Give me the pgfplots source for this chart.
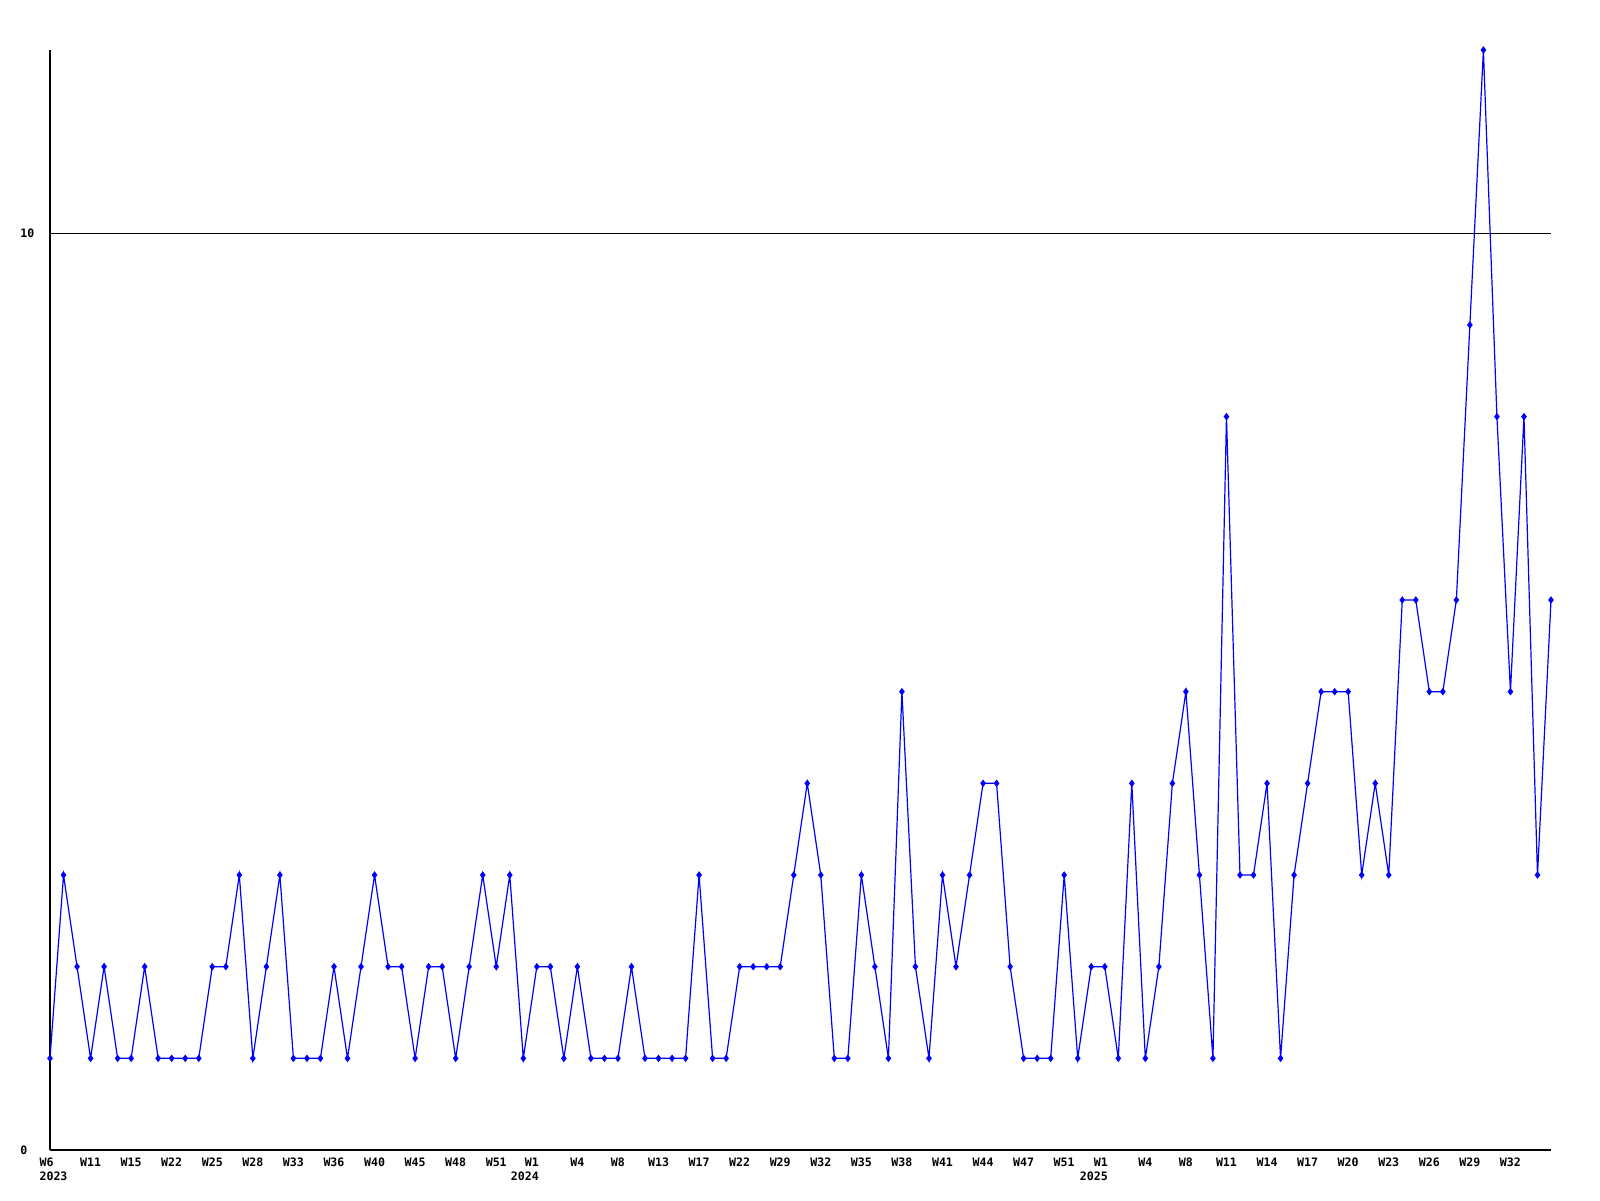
\documentclass[border=0pt]{standalone}
\usepackage{fontspec}
\setmonofont{DejaVu Sans Mono}
\usepackage{pgfplots}
\pgfplotsset{compat=1.18}
\usepackage{pgfplotstable}
\newcommand\lf{\fontsize{5.8}{7}\selectfont\ttfamily\bfseries}
\newcommand\tl[1]{\begin{tabular}{@{}c@{}}#1\end{tabular}}
\pgfplotstableread{
x y
0 1
1 3
2 2
3 1
4 2
5 1
6 1
7 2
8 1
9 1
10 1
11 1
12 2
13 2
14 3
15 1
16 2
17 3
18 1
19 1
20 1
21 2
22 1
23 2
24 3
25 2
26 2
27 1
28 2
29 2
30 1
31 2
32 3
33 2
34 3
35 1
36 2
37 2
38 1
39 2
40 1
41 1
42 1
43 2
44 1
45 1
46 1
47 1
48 3
49 1
50 1
51 2
52 2
53 2
54 2
55 3
56 4
57 3
58 1
59 1
60 3
61 2
62 1
63 5
64 2
65 1
66 3
67 2
68 3
69 4
70 4
71 2
72 1
73 1
74 1
75 3
76 1
77 2
78 2
79 1
80 4
81 1
82 2
83 4
84 5
85 3
86 1
87 8
88 3
89 3
90 4
91 1
92 3
93 4
94 5
95 5
96 5
97 3
98 4
99 3
100 6
101 6
102 5
103 5
104 6
105 9
106 12
107 8
108 5
109 8
110 3
111 6
}\weekly
\begin{document}
\begin{tikzpicture}
\useasboundingbox (0,0) rectangle (800pt,600pt);
\begin{axis}[
  at={(25pt,25pt)}, anchor=south west,
  width=750.5pt, height=550pt, scale only axis,
  xmin=0, xmax=111, ymin=0, ymax=12,
  clip=false,
  axis x line*=bottom, axis y line*=left,
  axis line style={-, black, line width=0.6pt},
  major tick length=0pt,
  tick style={draw=none},
  ytick={0,10}, yticklabels={0,10},
  ymajorgrids, grid style={black, line width=0.6pt},
  xtick={0,3,...,108},
  xticklabels={
    {\hspace*{3.5pt}\begin{tabular}{@{}l@{}}W6\\2023\end{tabular}},
    \tl{W11},\tl{W15},\tl{W22},\tl{W25},\tl{W28},\tl{W33},\tl{W36},\tl{W40},\tl{W45},\tl{W48},\tl{W51},
    {\begin{tabular}{@{}r@{}}W1\\2024\end{tabular}\hspace*{12pt}},
    \tl{W4},\tl{W8},\tl{W13},\tl{W17},\tl{W22},\tl{W29},\tl{W32},\tl{W35},\tl{W38},\tl{W41},\tl{W44},\tl{W47},\tl{W51},
    {\begin{tabular}{@{}r@{}}W1\\2025\end{tabular}\hspace*{11pt}},
    \tl{W4},\tl{W8},\tl{W11},\tl{W14},\tl{W17},\tl{W20},\tl{W23},\tl{W26},\tl{W29},\tl{W32}},
  xticklabel style={font=\lf, anchor=north, inner sep=0pt, yshift=-3.3pt},
  yticklabel style={font=\lf, anchor=west, inner sep=0pt, xshift=-15pt},
  /pgf/number format/assume math mode=true,
]
\addplot[color={rgb,255:red,0;green,0;blue,255}, line width=0.6pt,
  mark=diamond*, mark size=1.4pt, mark options={solid}] table[x=x,y=y] {\weekly};
\end{axis}
\end{tikzpicture}
\end{document}
